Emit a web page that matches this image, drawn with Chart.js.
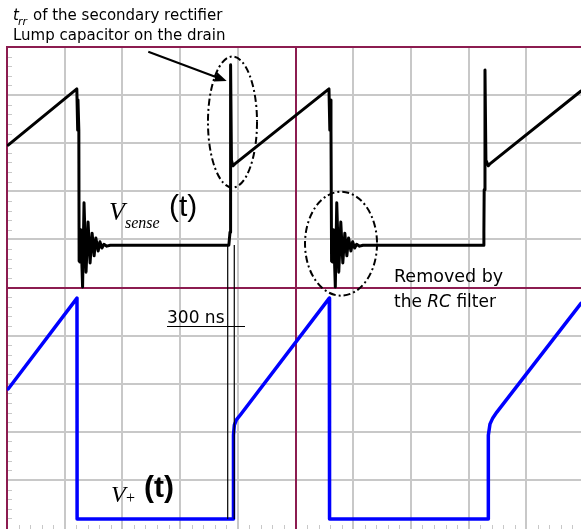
<!DOCTYPE html>
<html>
<head>
  <title>Vsense and V+ waveforms</title>
  <script src="https://cdn.jsdelivr.net/npm/chart.js"></script>
  <style>
    body { margin: 0; background: #fff; }
    canvas { display: block; }
  </style>
</head>
<body>
  <canvas id="scopeChart" width="581" height="529"></canvas>
  <script>
    // Both axes are in screen divisions of the scope graticule (10 x 10)
    const vsenseT = [0.02, 1.21, 1.225, 1.23, 1.245, 1.25, 1.265, 1.28, 1.31, 1.335, 1.37, 1.405, 1.44, 1.475, 1.51, 1.54, 1.58, 1.61, 1.645, 1.68, 1.73, 1.79,
      3.845, 3.865, 3.873, 3.877, 3.89, 3.915, 3.95,
      5.58, 5.595, 5.60, 5.615, 5.625, 5.645, 5.66, 5.69, 5.715, 5.75, 5.785, 5.82, 5.855, 5.89, 5.92, 5.96, 5.99, 6.025, 6.06, 6.11, 6.17,
      8.25, 8.265, 8.27, 8.284, 8.30, 8.342, 8.37, 9.948];
    const vsenseV = [7.96, 9.13, 8.27, 8.90, 8.27, 5.55, 5.53, 6.20, 5.01, 6.76, 5.32, 6.36, 5.51, 6.13, 5.66, 6.03, 5.76, 5.95, 5.82, 5.90, 5.86, 5.88,
      5.88, 6.15, 7.03, 9.63, 7.65, 7.53, 7.57,
      9.13, 8.27, 8.90, 8.27, 5.55, 5.53, 6.20, 5.01, 6.76, 5.32, 6.36, 5.51, 6.13, 5.66, 6.03, 5.76, 5.95, 5.82, 5.90, 5.86, 5.88,
      5.88, 6.15, 7.03, 9.52, 7.65, 7.53, 7.57, 9.085];

    const vplusT = [0.02, 1.213, 1.215, 3.925, 3.925, 3.94, 3.975, 4.03, 5.586, 5.59, 8.342, 8.342, 8.37, 8.42, 8.49, 9.948];
    const vplusV = [2.89, 4.78, 0.19, 0.19, 1.93, 2.14, 2.25, 2.33, 4.78, 0.19, 0.19, 1.93, 2.16, 2.29, 2.41, 4.67];

    const gridX = [0, 1, 2, 3, 4, 5, 6, 7, 8, 9];
    const gridY = [0, 1, 2, 3, 4, 5, 6, 7, 8, 9, 10];
    const frameX = [0, 5];
    const frameY = [5, 10];

    // markers: 300 ns cursors, arrow, dashed ellipses (in divisions)
    const cursorT = [3.825, 3.939];
    const cursorV = [5.884, 0.19];
    const arrowFrom = [2.449, 9.902];
    const arrowTo = [3.808, 9.293];
    const ellipses = [
      { x: 3.908, y: 8.44, rx: 0.425, ry: 1.362 },
      { x: 5.789, y: 5.911, rx: 0.624, ry: 1.081 }
    ];

    const magenta = "#8c1c50";
    const gridGray = "#c8c8c8";

    function toPoints(t, v) {
      return t.map((x, i) => ({ x: x, y: v[i] }));
    }

    const graticule = {
      id: "graticule",
      beforeDatasetsDraw(chart) {
        const ctx = chart.ctx;
        const xs = chart.scales.x, ys = chart.scales.y;
        const a = chart.chartArea;
        ctx.save();
        // minor ticks on the left and bottom edges
        ctx.strokeStyle = gridGray;
        ctx.lineWidth = 1;
        for (let i = 1; i < 50; i++) {
          if (i % 5 === 0) continue;
          const y = Math.round(ys.getPixelForValue(i / 5)) + 0.5;
          ctx.beginPath();
          ctx.moveTo(a.left, y);
          ctx.lineTo(a.left + 5, y);
          ctx.stroke();
          const x = Math.round(xs.getPixelForValue(i / 5)) + 0.5;
          ctx.beginPath();
          ctx.moveTo(x, a.bottom);
          ctx.lineTo(x, a.bottom - 4);
          ctx.stroke();
        }
        // magenta frame and centre lines
        ctx.strokeStyle = magenta;
        ctx.lineWidth = 2;
        frameX.forEach(v => {
          const x = Math.round(xs.getPixelForValue(v));
          ctx.beginPath();
          ctx.moveTo(x, a.top - 1);
          ctx.lineTo(x, a.bottom);
          ctx.stroke();
        });
        frameY.forEach(v => {
          const y = Math.round(ys.getPixelForValue(v));
          ctx.beginPath();
          ctx.moveTo(a.left - 1, y);
          ctx.lineTo(a.right, y);
          ctx.stroke();
        });
        ctx.restore();
      }
    };

    const notes = {
      id: "notes",
      afterDatasetsDraw(chart) {
        const ctx = chart.ctx;
        const xs = chart.scales.x, ys = chart.scales.y;
        const px = v => xs.getPixelForValue(v);
        const py = v => ys.getPixelForValue(v);
        ctx.save();

        // 300 ns cursors
        ctx.strokeStyle = "#000";
        ctx.lineWidth = 1.2;
        cursorT.forEach(t => {
          ctx.beginPath();
          ctx.moveTo(px(t), py(cursorV[0]));
          ctx.lineTo(px(t), py(cursorV[1]));
          ctx.stroke();
        });
        ctx.beginPath();
        ctx.moveTo(167, 326.5);
        ctx.lineTo(245, 326.5);
        ctx.stroke();

        // dashed ellipses
        ctx.lineWidth = 2;
        ctx.setLineDash([7, 3, 2, 3]);
        ellipses.forEach(e => {
          ctx.beginPath();
          ctx.ellipse(px(e.x), py(e.y), px(e.x + e.rx) - px(e.x), py(e.y) - py(e.y + e.ry), 0, 0, Math.PI * 2);
          ctx.stroke();
        });
        ctx.setLineDash([]);

        // arrow
        const x0 = px(arrowFrom[0]), y0 = py(arrowFrom[1]);
        const x1 = px(arrowTo[0]), y1 = py(arrowTo[1]);
        const ang = Math.atan2(y1 - y0, x1 - x0);
        ctx.lineWidth = 2;
        ctx.beginPath();
        ctx.moveTo(x0, y0);
        ctx.lineTo(x1 - 8 * Math.cos(ang), y1 - 8 * Math.sin(ang));
        ctx.stroke();
        ctx.fillStyle = "#000";
        ctx.beginPath();
        ctx.moveTo(x1, y1);
        ctx.lineTo(x1 - 12 * Math.cos(ang) + 5 * Math.sin(ang), y1 - 12 * Math.sin(ang) - 5 * Math.cos(ang));
        ctx.lineTo(x1 - 12 * Math.cos(ang) - 5 * Math.sin(ang), y1 - 12 * Math.sin(ang) + 5 * Math.cos(ang));
        ctx.closePath();
        ctx.fill();

        // text
        ctx.textBaseline = "alphabetic";
        ctx.textAlign = "left";
        ctx.font = "italic 15px 'DejaVu Sans'";
        ctx.fillText("t", 13, 20);
        ctx.font = "italic 11px 'DejaVu Sans'";
        ctx.fillText("rr", 18, 25);
        ctx.font = "15px 'DejaVu Sans'";
        ctx.fillText("of the secondary rectifier", 33, 20);
        ctx.fillText("Lump capacitor on the drain", 13, 40);

        ctx.font = "17px 'DejaVu Sans'";
        ctx.fillText("300 ns", 167, 323);
        ctx.font = "17.5px 'DejaVu Sans'";
        ctx.fillText("Removed by", 394, 282);
        ctx.font = "17px 'DejaVu Sans'";
        ctx.fillText("the ", 394, 307);
        let w = ctx.measureText("the ").width;
        ctx.font = "italic 17px 'DejaVu Sans'";
        ctx.fillText("RC", 394 + w, 307);
        w += ctx.measureText("RC").width;
        ctx.font = "17px 'DejaVu Sans'";
        ctx.fillText(" filter", 394 + w, 307);

        ctx.font = "italic 26px 'Liberation Serif'";
        ctx.fillText("V", 109, 220);
        ctx.font = "italic 16px 'Liberation Serif'";
        ctx.fillText("sense", 125, 228);
        ctx.font = "30px 'Liberation Sans'";
        ctx.fillText("(t)", 169, 216);

        ctx.font = "italic 24px 'Liberation Serif'";
        ctx.fillText("V", 111, 502);
        ctx.font = "16px 'Liberation Serif'";
        ctx.fillText("+", 126, 503);
        ctx.font = "bold 30px 'Liberation Sans'";
        ctx.fillText("(t)", 144, 497);

        ctx.restore();
      }
    };

    new Chart(document.getElementById("scopeChart"), {
      type: "line",
      data: {
        datasets: [
          {
            label: "Vsense(t)",
            data: toPoints(vsenseT, vsenseV),
            borderColor: "#000",
            borderWidth: 3,
            pointRadius: 0,
            tension: 0,
            borderJoinStyle: "round",
            borderCapStyle: "round"
          },
          {
            label: "V+(t)",
            data: toPoints(vplusT, vplusV),
            borderColor: "#0000ff",
            borderWidth: 3.5,
            pointRadius: 0,
            tension: 0,
            borderJoinStyle: "round",
            borderCapStyle: "round"
          }
        ]
      },
      options: {
        responsive: false,
        animation: false,
        devicePixelRatio: 1,
        layout: { padding: { left: 7, top: 47, right: 0, bottom: 0 } },
        plugins: { legend: { display: false }, tooltip: { enabled: false } },
        scales: {
          x: {
            type: "linear",
            min: 0,
            max: 9.948,
            afterBuildTicks: s => { s.ticks = gridX.map(v => ({ value: v })); },
            ticks: { display: false },
            border: { display: false },
            grid: { color: gridGray, lineWidth: 2, drawTicks: false }
          },
          y: {
            type: "linear",
            min: -0.02,
            max: 10,
            afterBuildTicks: s => { s.ticks = gridY.map(v => ({ value: v })); },
            ticks: { display: false },
            border: { display: false },
            grid: {
              color: c => (c.tick && c.tick.value === 0 ? "rgba(0,0,0,0)" : gridGray),
              lineWidth: 2,
              drawTicks: false
            }
          }
        }
      },
      plugins: [graticule, notes]
    });
  </script>
</body>
</html>
